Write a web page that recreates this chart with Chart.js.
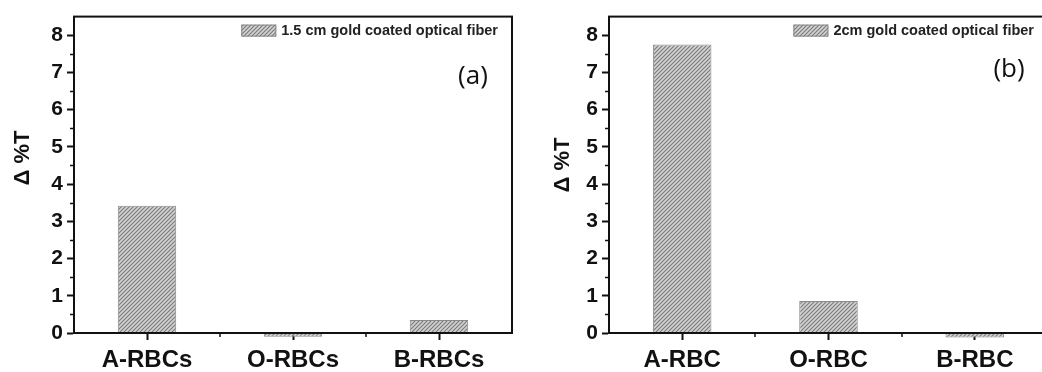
<!DOCTYPE html>
<html>
<head>
<meta charset="utf-8">
<script src="https://cdn.jsdelivr.net/npm/chart.js@4"></script>
<style>
  html, body { margin:0; padding:0; background:#fff; overflow:hidden; width:1042px; height:372px; }
  canvas { position:absolute; top:0; }
  #cA { left:0; }
  #cB { left:520px; }
</style>
</head>
<body>
<canvas id="cA" width="520" height="372"></canvas>
<canvas id="cB" width="540" height="372"></canvas>
<script>
// ---- data ----
const labelsA = ['A-RBCs', 'O-RBCs', 'B-RBCs'];
const valuesA = [3.42, -0.10, 0.35];
const labelsB = ['A-RBC', 'O-RBC', 'B-RBC'];
const valuesB = [7.75, 0.86, -0.12];
const yTickValues = [0, 1, 2, 3, 4, 5, 6, 7, 8];
const yMinorValues = [0.5, 1.5, 2.5, 3.5, 4.5, 5.5, 6.5, 7.5];
const legendA = '1.5 cm gold coated optical fiber';
const legendB = '2cm gold coated optical fiber';
const panelA = '(a)';
const panelB = '(b)';
const yTitle = 'Δ %T';

Chart.defaults.devicePixelRatio = 1;
Chart.defaults.animation = false;

function makePattern() {
  const c = document.createElement('canvas');
  c.width = 4; c.height = 4;
  const g = c.getContext('2d');
  g.fillStyle = '#d2d2d2';
  g.fillRect(0, 0, 4, 4);
  g.strokeStyle = '#7a7a7a';
  g.lineWidth = 1.1;
  g.beginPath();
  g.moveTo(0, 4); g.lineTo(4, 0);
  g.moveTo(-1, 1); g.lineTo(1, -1);
  g.moveTo(3, 5); g.lineTo(5, 3);
  g.stroke();
  return g.createPattern(c, 'repeat');
}

const INK = '#111';
const FONT = "'Liberation Sans', Arial, sans-serif";

function frameplugin(cfg) {
  return {
    id: 'frame_' + cfg.id,
    afterDatasetsDraw(chart) {
      const { ctx, chartArea: a } = chart;
      const y = chart.scales.y, x = chart.scales.x;
      const ds = chart.data.datasets[0];
      ctx.save();
      ctx.strokeStyle = INK;
      ctx.lineWidth = 2;
      ctx.strokeRect(a.left, a.top, a.right - a.left, a.bottom - a.top);
      // minor y ticks
      ctx.lineWidth = 1.5;
      ctx.beginPath();
      yMinorValues.forEach(v => {
        const p = Math.round(y.getPixelForValue(v)) + 0.5;
        ctx.moveTo(a.left - 4, p); ctx.lineTo(a.left, p);
      });
      // minor x ticks between categories
      for (let i = 0; i < x.ticks.length - 1; i++) {
        const p = Math.round((x.getPixelForValue(i) + x.getPixelForValue(i + 1)) / 2);
        ctx.moveTo(p, a.bottom); ctx.lineTo(p, a.bottom + 4);
      }
      ctx.stroke();
      // legend (inside plot, top-right)
      ctx.font = "bold 14.5px " + FONT;
      ctx.textAlign = 'left';
      ctx.textBaseline = 'middle';
      const tw = ctx.measureText(ds.label).width;
      const tx = a.right - 14 - tw;
      const bx = tx - 5 - 35, by = a.top + 8;
      ctx.fillStyle = ds.backgroundColor;
      ctx.fillRect(bx, by, 35, 12);
      ctx.strokeStyle = '#8a8a8a';
      ctx.lineWidth = 1;
      ctx.strokeRect(bx + 0.5, by + 0.5, 34, 11);
      ctx.fillStyle = '#222';
      ctx.fillText(ds.label, tx, by + 6.5);
      // y axis title
      ctx.fillStyle = INK;
      ctx.font = "bold 22px " + FONT;
      ctx.textAlign = 'center';
      ctx.textBaseline = 'middle';
      ctx.save();
      ctx.translate(cfg.titleX, cfg.titleY);
      ctx.rotate(-Math.PI / 2);
      ctx.fillText(yTitle, 0, 0);
      ctx.restore();
      // panel label
      ctx.font = "26px 'Open Sans', sans-serif";
      ctx.fillText(cfg.panel, a.right - 39, a.top + cfg.panelDy);
      ctx.restore();
    }
  };
}

function build(cfg) {
  const pattern = makePattern();
  return new Chart(document.getElementById(cfg.id), {
    type: 'bar',
    data: {
      labels: cfg.labels,
      datasets: [{
        label: cfg.legend,
        data: cfg.values,
        backgroundColor: pattern,
        borderColor: '#8a8a8a',
        borderWidth: 1,
        barPercentage: 0.4,
        categoryPercentage: 1,
        clip: false
      }]
    },
    options: {
      responsive: false,
      layout: { padding: { top: 14, right: cfg.rightPad, left: 0, bottom: 0 } },
      plugins: {
        tooltip: { enabled: false },
        legend: { display: false }
      },
      scales: {
        x: {
          afterFit: s => { s.height = 39; },
          grid: { drawOnChartArea: false, offset: false, tickLength: 7, tickWidth: 2, tickColor: INK },
          border: { color: INK, width: 2 },
          ticks: { color: INK, padding: 6, font: { family: FONT, size: 24, weight: 'bold' } }
        },
        y: {
          min: 0,
          max: 8.5,
          afterBuildTicks: s => { s.ticks = yTickValues.map(v => ({ value: v })); },
          afterFit: s => { s.width = cfg.yWidth; },
          grid: { drawOnChartArea: false, tickLength: 7, tickWidth: 2, tickColor: INK },
          border: { color: INK, width: 2 },
          ticks: { color: INK, padding: 4, font: { family: FONT, size: 21, weight: 'bold' } }
        }
      }
    },
    plugins: [frameplugin(cfg)]
  });
}

build({ id: 'cA', labels: labelsA, values: valuesA, legend: legendA, panel: panelA,
        yWidth: 74, rightPad: 8, titleX: 23, titleY: 158, panelDy: 60 });
build({ id: 'cB', labels: labelsB, values: valuesB, legend: legendB, panel: panelB,
        yWidth: 89, rightPad: 12, titleX: 43, titleY: 165, panelDy: 53 });
</script>
</body>
</html>
